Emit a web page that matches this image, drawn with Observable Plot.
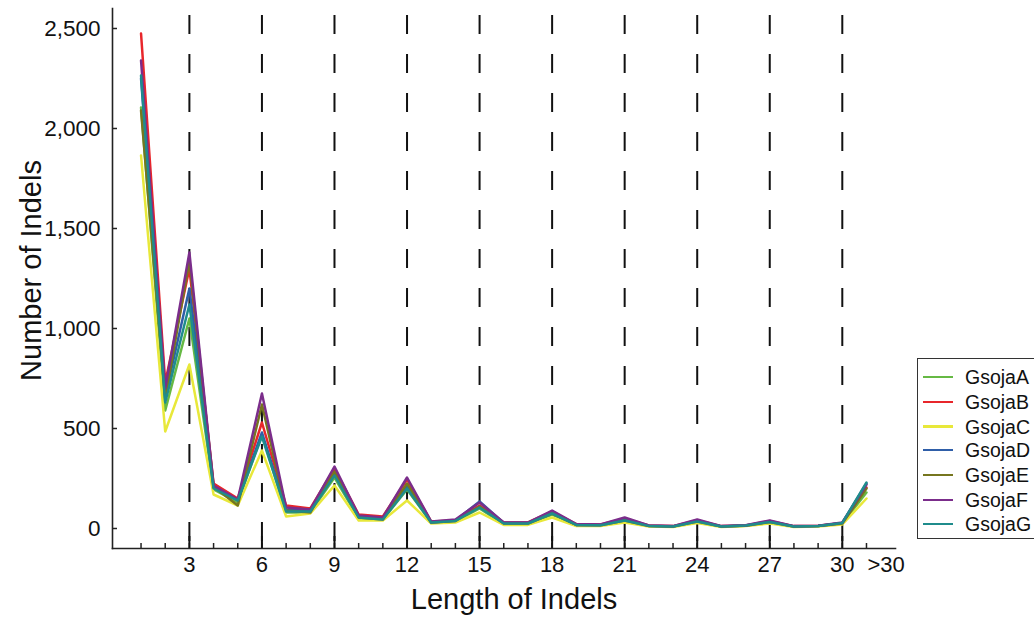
<!DOCTYPE html>
<html><head><meta charset="utf-8">
<script src="https://cdn.jsdelivr.net/npm/d3@7"></script>
<script src="https://cdn.jsdelivr.net/npm/@observablehq/plot@0.6"></script>
<style>
body{margin:0;background:#fff;font-family:"Liberation Sans",Arial,sans-serif}
#wrap{position:relative;width:1034px;height:619px;overflow:hidden}
#legend{position:absolute;left:917px;top:358px;width:117px;height:181px;border:1.5px solid #333;border-right:none;box-sizing:border-box;background:#fff}
.row{position:absolute;left:5px;height:20px;display:flex;align-items:center}
.sw{width:30px;height:2.5px;margin-right:12px}
.lb{font-size:19.5px;color:#111;line-height:20px}
</style></head><body><div id="wrap"><div id="legend"></div></div>
<script>
// Indel length categories (31 = ">30")
const lengths = d3.range(1, 32);
const majorTicks = [3, 6, 9, 12, 15, 18, 21, 24, 27, 30];
const overTick = [31];
const overLabel = ">30";
const yTicks = [0, 500, 1000, 1500, 2000, 2500];
const xTitle = "Length of Indels";
const yTitle = "Number of Indels";

const seriesNames = ["GsojaA", "GsojaB", "GsojaC", "GsojaD", "GsojaE", "GsojaF", "GsojaG"];
const seriesColors = ["#66b944", "#e8262b", "#e8e83a", "#2f5ea8", "#76761f", "#7b2d8b", "#1f8c8c"];

const gsojaA = [2105,590,1050,195,130,470,80,80,255,50,45,195,30,35,100,22,22,70,18,16,38,13,10,32,10,14,30,10,12,25,180];
const gsojaB = [2475,730,1300,225,150,530,115,100,300,70,60,245,35,40,115,30,30,85,22,20,50,15,12,42,12,15,38,12,14,28,205];
const gsojaC = [1865,485,820,170,115,390,60,75,215,40,40,140,25,30,80,18,18,55,12,12,30,10,8,28,8,12,25,8,10,20,150];
const gsojaD = [2250,660,1200,205,140,480,95,90,275,60,50,215,30,40,135,28,27,80,18,18,45,14,10,38,10,15,35,10,12,28,225];
const gsojaE = [2090,650,1340,210,115,620,90,80,285,55,45,225,30,38,110,25,25,75,18,16,40,12,10,35,10,14,32,10,12,25,200];
const gsojaF = [2340,700,1380,215,145,675,105,95,310,65,55,255,35,45,130,30,30,90,22,20,55,15,12,45,12,16,40,12,14,30,220];
const gsojaG = [2265,630,1120,200,140,460,85,85,265,55,45,200,30,38,105,25,25,75,18,16,40,13,10,35,10,15,33,10,12,28,230];

const seriesValues = [gsojaA, gsojaB, gsojaC, gsojaD, gsojaE, gsojaF, gsojaG];
const rows = [];
seriesNames.forEach((s, i) => lengths.forEach((len, j) => rows.push({series: s, len, value: seriesValues[i][j]})));

const font = "Liberation Sans, Arial, sans-serif";
const plot = Plot.plot({
  width: 1034, height: 619,
  marginLeft: 112, marginRight: 139, marginTop: 8, marginBottom: 71,
  style: {fontFamily: font, fontSize: "22px", background: "#fff", color: "#111"},
  x: {domain: [-0.18, 32.2]},
  y: {domain: [-100, 2600]},
  color: {domain: seriesNames, range: seriesColors},
  marks: [
    Plot.ruleX(majorTicks, {stroke: "#111", strokeWidth: 2, strokeDasharray: "19,20", insetTop: 7}),
    Plot.lineY(rows, {x: "len", y: "value", z: "series", stroke: "series", strokeWidth: 2.5}),
    Plot.axisY(yTicks, {tickSize: 0, tickPadding: 12, tickFormat: d3.format(","), label: null, fontSize: 22.5}),
    Plot.axisY(yTicks, {tickSize: 5, dx: 5, text: null, label: null, stroke: "#222", strokeWidth: 1.5}),
    Plot.axisX(lengths, {tickSize: 5, dy: -5, text: null, label: null, stroke: "#222", strokeWidth: 1.5}),
    Plot.axisX(majorTicks, {tickSize: 12, dy: -12, text: null, label: null, stroke: "#111", strokeWidth: 2}),
    Plot.axisX(majorTicks, {tickSize: 0, tickPadding: 8, label: null, fontSize: 22}),
    Plot.axisX(overTick, {tickSize: 0, tickPadding: 8, tickFormat: () => overLabel, textAnchor: "start", dx: 1, label: null, fontSize: 22}),
    Plot.frame({anchor: "left", stroke: "#222", strokeWidth: 1.6}),
    Plot.frame({anchor: "bottom", stroke: "#222", strokeWidth: 1.6}),
    Plot.text([xTitle], {frameAnchor: "bottom", lineAnchor: "middle", textAnchor: "middle", dy: 51, dx: 10, fontSize: 29, fill: "#111"}),
    Plot.text([yTitle], {frameAnchor: "left", lineAnchor: "middle", textAnchor: "middle", rotate: -90, dx: -81, dy: -8, fontSize: 29, fill: "#111"})
  ]
});
const wrap = document.getElementById("wrap");
wrap.insertBefore(plot, wrap.firstChild);

const legend = document.getElementById("legend");
const rowCenters = [18, 43, 67.5, 91, 116, 141, 165];
seriesNames.forEach((s, i) => {
  const r = document.createElement("div");
  r.className = "row";
  r.style.top = (rowCenters[i] - 10) + "px";
  r.innerHTML = `<span class="sw" style="background:${seriesColors[i]}"></span><span class="lb">${s}</span>`;
  legend.appendChild(r);
});
</script></body></html>
